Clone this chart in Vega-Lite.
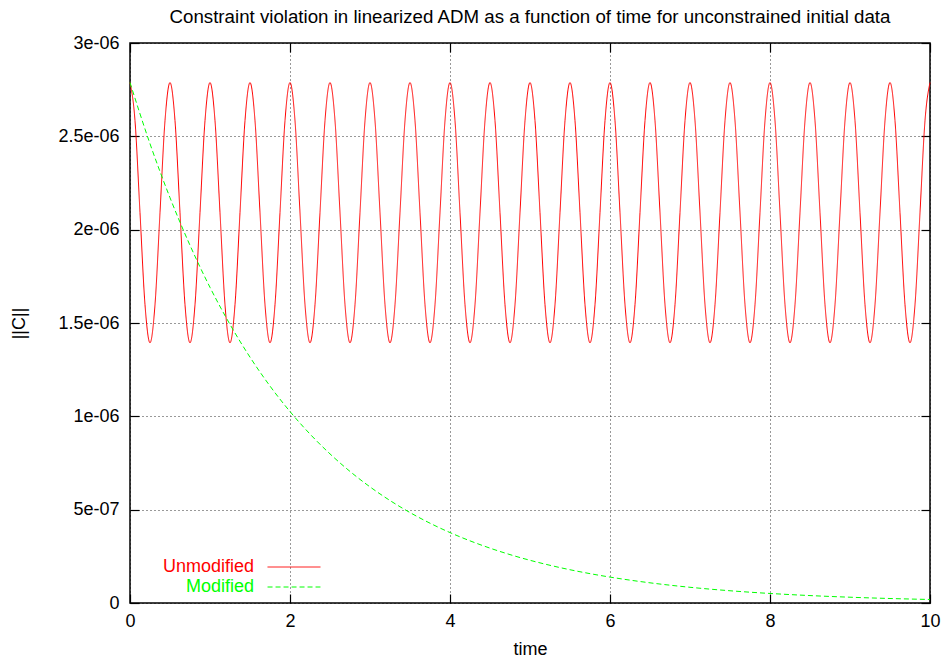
{
"$schema": "https://vega.github.io/schema/vega-lite/v6.json",
"width": 800, "height": 560,
"autosize": "none",
"padding": {"left": 130, "top": 43, "right": 12, "bottom": 54},
"background": "white",
"title": {"text": "Constraint violation in linearized ADM as a function of time for unconstrained initial data", "font": "Liberation Sans", "fontSize": 18.7, "fontWeight": "normal", "color": "black", "anchor": "middle", "offset": 7},
"data": {"values": [
{"s":"Unmodified","t":0,"v":2.788e-6},{"s":"Unmodified","t":0.0625,"v":2.584e-6},{"s":"Unmodified","t":0.125,"v":2.091e-6},{"s":"Unmodified","t":0.1875,"v":1.598e-6},{"s":"Unmodified","t":0.25,"v":1.394e-6},{"s":"Unmodified","t":0.3125,"v":1.598e-6},{"s":"Unmodified","t":0.375,"v":2.091e-6},{"s":"Unmodified","t":0.4375,"v":2.584e-6},
{"s":"Unmodified","t":0.5,"v":2.788e-6},{"s":"Unmodified","t":0.5625,"v":2.584e-6},{"s":"Unmodified","t":0.625,"v":2.091e-6},{"s":"Unmodified","t":0.6875,"v":1.598e-6},{"s":"Unmodified","t":0.75,"v":1.394e-6},{"s":"Unmodified","t":0.8125,"v":1.598e-6},{"s":"Unmodified","t":0.875,"v":2.091e-6},{"s":"Unmodified","t":0.9375,"v":2.584e-6},
{"s":"Unmodified","t":1,"v":2.788e-6},{"s":"Unmodified","t":1.0625,"v":2.584e-6},{"s":"Unmodified","t":1.125,"v":2.091e-6},{"s":"Unmodified","t":1.1875,"v":1.598e-6},{"s":"Unmodified","t":1.25,"v":1.394e-6},{"s":"Unmodified","t":1.3125,"v":1.598e-6},{"s":"Unmodified","t":1.375,"v":2.091e-6},{"s":"Unmodified","t":1.4375,"v":2.584e-6},
{"s":"Unmodified","t":1.5,"v":2.788e-6},{"s":"Unmodified","t":1.5625,"v":2.584e-6},{"s":"Unmodified","t":1.625,"v":2.091e-6},{"s":"Unmodified","t":1.6875,"v":1.598e-6},{"s":"Unmodified","t":1.75,"v":1.394e-6},{"s":"Unmodified","t":1.8125,"v":1.598e-6},{"s":"Unmodified","t":1.875,"v":2.091e-6},{"s":"Unmodified","t":1.9375,"v":2.584e-6},
{"s":"Unmodified","t":2,"v":2.788e-6},{"s":"Unmodified","t":2.0625,"v":2.584e-6},{"s":"Unmodified","t":2.125,"v":2.091e-6},{"s":"Unmodified","t":2.1875,"v":1.598e-6},{"s":"Unmodified","t":2.25,"v":1.394e-6},{"s":"Unmodified","t":2.3125,"v":1.598e-6},{"s":"Unmodified","t":2.375,"v":2.091e-6},{"s":"Unmodified","t":2.4375,"v":2.584e-6},
{"s":"Unmodified","t":2.5,"v":2.788e-6},{"s":"Unmodified","t":2.5625,"v":2.584e-6},{"s":"Unmodified","t":2.625,"v":2.091e-6},{"s":"Unmodified","t":2.6875,"v":1.598e-6},{"s":"Unmodified","t":2.75,"v":1.394e-6},{"s":"Unmodified","t":2.8125,"v":1.598e-6},{"s":"Unmodified","t":2.875,"v":2.091e-6},{"s":"Unmodified","t":2.9375,"v":2.584e-6},
{"s":"Unmodified","t":3,"v":2.788e-6},{"s":"Unmodified","t":3.0625,"v":2.584e-6},{"s":"Unmodified","t":3.125,"v":2.091e-6},{"s":"Unmodified","t":3.1875,"v":1.598e-6},{"s":"Unmodified","t":3.25,"v":1.394e-6},{"s":"Unmodified","t":3.3125,"v":1.598e-6},{"s":"Unmodified","t":3.375,"v":2.091e-6},{"s":"Unmodified","t":3.4375,"v":2.584e-6},
{"s":"Unmodified","t":3.5,"v":2.788e-6},{"s":"Unmodified","t":3.5625,"v":2.584e-6},{"s":"Unmodified","t":3.625,"v":2.091e-6},{"s":"Unmodified","t":3.6875,"v":1.598e-6},{"s":"Unmodified","t":3.75,"v":1.394e-6},{"s":"Unmodified","t":3.8125,"v":1.598e-6},{"s":"Unmodified","t":3.875,"v":2.091e-6},{"s":"Unmodified","t":3.9375,"v":2.584e-6},
{"s":"Unmodified","t":4,"v":2.788e-6},{"s":"Unmodified","t":4.0625,"v":2.584e-6},{"s":"Unmodified","t":4.125,"v":2.091e-6},{"s":"Unmodified","t":4.1875,"v":1.598e-6},{"s":"Unmodified","t":4.25,"v":1.394e-6},{"s":"Unmodified","t":4.3125,"v":1.598e-6},{"s":"Unmodified","t":4.375,"v":2.091e-6},{"s":"Unmodified","t":4.4375,"v":2.584e-6},
{"s":"Unmodified","t":4.5,"v":2.788e-6},{"s":"Unmodified","t":4.5625,"v":2.584e-6},{"s":"Unmodified","t":4.625,"v":2.091e-6},{"s":"Unmodified","t":4.6875,"v":1.598e-6},{"s":"Unmodified","t":4.75,"v":1.394e-6},{"s":"Unmodified","t":4.8125,"v":1.598e-6},{"s":"Unmodified","t":4.875,"v":2.091e-6},{"s":"Unmodified","t":4.9375,"v":2.584e-6},
{"s":"Unmodified","t":5,"v":2.788e-6},{"s":"Unmodified","t":5.0625,"v":2.584e-6},{"s":"Unmodified","t":5.125,"v":2.091e-6},{"s":"Unmodified","t":5.1875,"v":1.598e-6},{"s":"Unmodified","t":5.25,"v":1.394e-6},{"s":"Unmodified","t":5.3125,"v":1.598e-6},{"s":"Unmodified","t":5.375,"v":2.091e-6},{"s":"Unmodified","t":5.4375,"v":2.584e-6},
{"s":"Unmodified","t":5.5,"v":2.788e-6},{"s":"Unmodified","t":5.5625,"v":2.584e-6},{"s":"Unmodified","t":5.625,"v":2.091e-6},{"s":"Unmodified","t":5.6875,"v":1.598e-6},{"s":"Unmodified","t":5.75,"v":1.394e-6},{"s":"Unmodified","t":5.8125,"v":1.598e-6},{"s":"Unmodified","t":5.875,"v":2.091e-6},{"s":"Unmodified","t":5.9375,"v":2.584e-6},
{"s":"Unmodified","t":6,"v":2.788e-6},{"s":"Unmodified","t":6.0625,"v":2.584e-6},{"s":"Unmodified","t":6.125,"v":2.091e-6},{"s":"Unmodified","t":6.1875,"v":1.598e-6},{"s":"Unmodified","t":6.25,"v":1.394e-6},{"s":"Unmodified","t":6.3125,"v":1.598e-6},{"s":"Unmodified","t":6.375,"v":2.091e-6},{"s":"Unmodified","t":6.4375,"v":2.584e-6},
{"s":"Unmodified","t":6.5,"v":2.788e-6},{"s":"Unmodified","t":6.5625,"v":2.584e-6},{"s":"Unmodified","t":6.625,"v":2.091e-6},{"s":"Unmodified","t":6.6875,"v":1.598e-6},{"s":"Unmodified","t":6.75,"v":1.394e-6},{"s":"Unmodified","t":6.8125,"v":1.598e-6},{"s":"Unmodified","t":6.875,"v":2.091e-6},{"s":"Unmodified","t":6.9375,"v":2.584e-6},
{"s":"Unmodified","t":7,"v":2.788e-6},{"s":"Unmodified","t":7.0625,"v":2.584e-6},{"s":"Unmodified","t":7.125,"v":2.091e-6},{"s":"Unmodified","t":7.1875,"v":1.598e-6},{"s":"Unmodified","t":7.25,"v":1.394e-6},{"s":"Unmodified","t":7.3125,"v":1.598e-6},{"s":"Unmodified","t":7.375,"v":2.091e-6},{"s":"Unmodified","t":7.4375,"v":2.584e-6},
{"s":"Unmodified","t":7.5,"v":2.788e-6},{"s":"Unmodified","t":7.5625,"v":2.584e-6},{"s":"Unmodified","t":7.625,"v":2.091e-6},{"s":"Unmodified","t":7.6875,"v":1.598e-6},{"s":"Unmodified","t":7.75,"v":1.394e-6},{"s":"Unmodified","t":7.8125,"v":1.598e-6},{"s":"Unmodified","t":7.875,"v":2.091e-6},{"s":"Unmodified","t":7.9375,"v":2.584e-6},
{"s":"Unmodified","t":8,"v":2.788e-6},{"s":"Unmodified","t":8.0625,"v":2.584e-6},{"s":"Unmodified","t":8.125,"v":2.091e-6},{"s":"Unmodified","t":8.1875,"v":1.598e-6},{"s":"Unmodified","t":8.25,"v":1.394e-6},{"s":"Unmodified","t":8.3125,"v":1.598e-6},{"s":"Unmodified","t":8.375,"v":2.091e-6},{"s":"Unmodified","t":8.4375,"v":2.584e-6},
{"s":"Unmodified","t":8.5,"v":2.788e-6},{"s":"Unmodified","t":8.5625,"v":2.584e-6},{"s":"Unmodified","t":8.625,"v":2.091e-6},{"s":"Unmodified","t":8.6875,"v":1.598e-6},{"s":"Unmodified","t":8.75,"v":1.394e-6},{"s":"Unmodified","t":8.8125,"v":1.598e-6},{"s":"Unmodified","t":8.875,"v":2.091e-6},{"s":"Unmodified","t":8.9375,"v":2.584e-6},
{"s":"Unmodified","t":9,"v":2.788e-6},{"s":"Unmodified","t":9.0625,"v":2.584e-6},{"s":"Unmodified","t":9.125,"v":2.091e-6},{"s":"Unmodified","t":9.1875,"v":1.598e-6},{"s":"Unmodified","t":9.25,"v":1.394e-6},{"s":"Unmodified","t":9.3125,"v":1.598e-6},{"s":"Unmodified","t":9.375,"v":2.091e-6},{"s":"Unmodified","t":9.4375,"v":2.584e-6},
{"s":"Unmodified","t":9.5,"v":2.788e-6},{"s":"Unmodified","t":9.5625,"v":2.584e-6},{"s":"Unmodified","t":9.625,"v":2.091e-6},{"s":"Unmodified","t":9.6875,"v":1.598e-6},{"s":"Unmodified","t":9.75,"v":1.394e-6},{"s":"Unmodified","t":9.8125,"v":1.598e-6},{"s":"Unmodified","t":9.875,"v":2.091e-6},{"s":"Unmodified","t":9.9375,"v":2.584e-6},
{"s":"Unmodified","t":10,"v":2.788e-6},
{"s":"Modified","t":0,"v":2.788e-6},{"s":"Modified","t":0.25,"v":2.4604e-6},{"s":"Modified","t":0.5,"v":2.1713e-6},{"s":"Modified","t":0.75,"v":1.9162e-6},
{"s":"Modified","t":1,"v":1.691e-6},{"s":"Modified","t":1.25,"v":1.4923e-6},{"s":"Modified","t":1.5,"v":1.317e-6},{"s":"Modified","t":1.75,"v":1.1622e-6},
{"s":"Modified","t":2,"v":1.0256e-6},{"s":"Modified","t":2.25,"v":9.051e-7},{"s":"Modified","t":2.5,"v":7.988e-7},{"s":"Modified","t":2.75,"v":7.049e-7},
{"s":"Modified","t":3,"v":6.221e-7},{"s":"Modified","t":3.25,"v":5.49e-7},{"s":"Modified","t":3.5,"v":4.845e-7},{"s":"Modified","t":3.75,"v":4.275e-7},
{"s":"Modified","t":4,"v":3.773e-7},{"s":"Modified","t":4.25,"v":3.33e-7},{"s":"Modified","t":4.5,"v":2.939e-7},{"s":"Modified","t":4.75,"v":2.593e-7},
{"s":"Modified","t":5,"v":2.288e-7},{"s":"Modified","t":5.25,"v":2.02e-7},{"s":"Modified","t":5.5,"v":1.782e-7},{"s":"Modified","t":5.75,"v":1.573e-7},
{"s":"Modified","t":6,"v":1.388e-7},{"s":"Modified","t":6.25,"v":1.225e-7},{"s":"Modified","t":6.5,"v":1.081e-7},{"s":"Modified","t":6.75,"v":9.54e-8},
{"s":"Modified","t":7,"v":8.42e-8},{"s":"Modified","t":7.25,"v":7.43e-8},{"s":"Modified","t":7.5,"v":6.56e-8},{"s":"Modified","t":7.75,"v":5.79e-8},
{"s":"Modified","t":8,"v":5.11e-8},{"s":"Modified","t":8.25,"v":4.51e-8},{"s":"Modified","t":8.5,"v":3.98e-8},{"s":"Modified","t":8.75,"v":3.51e-8},
{"s":"Modified","t":9,"v":3.1e-8},{"s":"Modified","t":9.25,"v":2.73e-8},{"s":"Modified","t":9.5,"v":2.41e-8},{"s":"Modified","t":9.75,"v":2.13e-8},
{"s":"Modified","t":10,"v":1.88e-8}
]},
"config": {
  "view": {"stroke": "black", "strokeWidth": 1.5},
  "axis": {"labelFont": "Liberation Sans", "titleFont": "Liberation Sans", "labelFontSize": 18, "titleFontSize": 18, "titleFontWeight": "normal", "labelColor": "black", "titleColor": "black", "domain": false, "tickColor": "black", "tickSize": -9, "tickWidth": 1.2, "labelFlush": false},
  "legend": {"orient": "none", "legendX": 30, "legendY": 515, "title": null, "symbolType": "M-5,0H5", "symbolSize": 112, "symbolStrokeWidth": 1, "labelAlign": "right", "labelOffset": -49, "symbolOffset": 125, "labelFont": "Liberation Sans", "labelFontSize": 18, "rowPadding": 2, "padding": 0, "direction": "vertical"}
},
"resolve": {"axis": {"x": "independent", "y": "independent"}},
"encoding": {
  "color": {"field": "s", "type": "nominal", "scale": {"domain": ["Unmodified", "Modified"], "range": ["#ff0000", "#00ff00"]},
    "legend": {"title": null, "encode": {"labels": {"update": {"fill": {"scale": "color", "field": "value"}}}}}},
  "strokeDash": {"field": "s", "type": "nominal", "scale": {"domain": ["Unmodified", "Modified"], "range": [[1, 0], [5, 3]]}, "legend": {"title": null}}
},
"layer": [
  {"transform": [{"filter": "datum.s == 'Unmodified'"}],
   "mark": {"type": "line", "strokeWidth": 1, "interpolate": "monotone"},
   "encoding": {
     "x": {"field": "t", "type": "quantitative", "scale": {"domain": [0, 10], "nice": false},
       "axis": {"orient": "bottom", "title": "time", "values": [0, 2, 4, 6, 8, 10], "format": "d", "grid": true, "gridDash": [1, 3], "gridColor": "black", "gridOpacity": 0.8, "labelPadding": 18, "titlePadding": 10}},
     "y": {"field": "v", "type": "quantitative", "scale": {"domain": [0, 3e-6], "nice": false},
       "axis": {"orient": "left", "title": "||C||", "values": [0, 5e-7, 1e-6, 1.5e-6, 2e-6, 2.5e-6, 3e-6], "labelExpr": "datum.value == 0 ? '0' : replace(format(datum.value, '.2~e'), 'e-', 'e-0')", "grid": true, "gridDash": [1, 3], "gridColor": "black", "gridOpacity": 0.8, "labelPadding": 20, "titlePadding": 29}}
   }},
  {"transform": [{"filter": "datum.s == 'Modified'"}],
   "mark": {"type": "line", "strokeWidth": 1, "interpolate": "monotone"},
   "encoding": {
     "x": {"field": "t", "type": "quantitative", "axis": {"orient": "top", "title": null, "labels": false, "grid": false, "values": [0, 2, 4, 6, 8, 10]}},
     "y": {"field": "v", "type": "quantitative", "axis": {"orient": "right", "title": null, "labels": false, "grid": false, "values": [0, 5e-7, 1e-6, 1.5e-6, 2e-6, 2.5e-6, 3e-6]}}
   }}
]
}
